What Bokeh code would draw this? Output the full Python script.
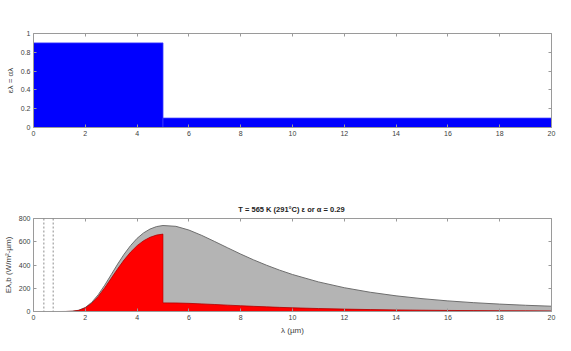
from bokeh.plotting import figure
from bokeh.layouts import column
from bokeh.models import LinearAxis, Span, FixedTicker, Range1d, CustomLabelingPolicy
from bokeh.embed import file_html
from bokeh.resources import INLINE

# ---- data ----
eps_edges = [0, 5, 20]
eps_values = [0.9, 0.1]

lam = [0, 0.5, 1.0, 1.25, 1.5, 1.75, 2.0, 2.25, 2.5, 2.75, 3.0, 3.25, 3.5, 3.75,
       4.0, 4.25, 4.5, 4.75, 5.0, 5.5, 6.0, 6.5, 7.0, 7.5, 8.0, 8.5, 9.0, 9.5,
       10, 11, 12, 13, 14, 15, 16, 17, 18, 19, 20]
E_b = [0, 0, 0, 0.2, 2.1, 10.9, 34.5, 78.9, 144.4, 226.4, 317.0, 408.4, 493.4, 567.7,
       629.3, 676.0, 709.3, 730.3, 739.7, 732.6, 700.6, 654.2, 601.4, 547.2, 493.9, 443.8, 397.8, 355.8,
       318.1, 254.6, 204.7, 165.5, 134.7, 110.5, 91.2, 75.9, 63.6, 53.6, 45.4]

lam_short = [0, 0.5, 1.0, 1.25, 1.5, 1.75, 2.0, 2.25, 2.5, 2.75, 3.0, 3.25, 3.5, 3.75,
             4.0, 4.25, 4.5, 4.75, 5.0]
E_short = [0, 0, 0, 0.2, 1.9, 9.8, 31.1, 71.0, 130.0, 203.8, 285.3, 367.6, 444.1, 510.9,
           566.4, 608.4, 638.4, 657.3, 665.7]
lam_long = [5.0, 5.5, 6.0, 6.5, 7.0, 7.5, 8.0, 8.5, 9.0, 9.5, 10, 11, 12, 13, 14, 15, 16, 17, 18, 19, 20]
E_long = [74.0, 73.3, 70.1, 65.4, 60.1, 54.7, 49.4, 44.4, 39.8, 35.6, 31.8, 25.5, 20.5, 16.6,
          13.5, 11.1, 9.1, 7.6, 6.4, 5.4, 4.5]

visible_band = [0.4, 0.76]

x_ticks = [0, 2, 4, 6, 8, 10, 12, 14, 16, 18, 20]
eps_ticks = [0, 0.2, 0.4, 0.6, 0.8, 1]
eps_tick_labels = ["0", "0.2", "0.4", "0.6", "0.8", "1"]
E_ticks = [0, 200, 400, 600, 800]

title_text = "T = 565 K (291\u00b0C)  \u03b5 or \u03b1 = 0.29"

FONT = "Liberation Sans"
AX = "#9a9a9a"
TXT = "#404040"


def style_axis(ax, show_labels=True):
    ax.axis_line_color = AX
    ax.major_tick_line_color = AX
    ax.major_tick_in = 3
    ax.major_tick_out = 0
    ax.minor_tick_in = 0
    ax.minor_tick_out = 0
    ax.major_label_text_font = FONT
    ax.major_label_text_color = TXT
    ax.major_label_standoff = 3
    ax.major_label_text_font_size = "7px"
    ax.axis_label_text_font = FONT
    ax.axis_label_text_font_style = "normal"
    ax.axis_label_text_color = TXT
    ax.axis_label_text_font_size = "8px"
    ax.axis_label_standoff = 3
    if not show_labels:
        ax.major_label_policy = CustomLabelingPolicy(code="return new Set()")
        ax.major_label_standoff = 0
        ax.major_label_text_font_size = "1px"
        ax.axis_label_standoff = 0


# ---- top panel ----
p1 = figure(width=571, height=150, x_range=Range1d(0, 20), y_range=Range1d(0, 1),
            output_backend="svg", toolbar_location=None,
            min_border_left=33, min_border_right=20, min_border_top=33, min_border_bottom=23)
p1.quad(left=eps_edges[:-1], right=eps_edges[1:], top=eps_values, bottom=0,
        fill_color="#0000ff", line_color="#3a3aff", line_width=0.8)
p1.xgrid.visible = False
p1.ygrid.visible = False
p1.outline_line_color = None
p1.xaxis.ticker = FixedTicker(ticks=x_ticks)
p1.yaxis.ticker = FixedTicker(ticks=eps_ticks)
p1.yaxis.major_label_overrides = {t: l for t, l in zip(eps_ticks, eps_tick_labels)}
p1.yaxis.axis_label = "\u03b5\u03bb = \u03b1\u03bb"
style_axis(p1.xaxis[0])
style_axis(p1.yaxis[0])
a_top = LinearAxis(ticker=FixedTicker(ticks=x_ticks))
a_right = LinearAxis(ticker=FixedTicker(ticks=eps_ticks))
style_axis(a_top, False)
style_axis(a_right, False)
p1.add_layout(a_top, "above")
p1.add_layout(a_right, "right")

# ---- bottom panel ----
p2 = figure(width=571, height=201, x_range=Range1d(0, 20), y_range=Range1d(0, 800),
            output_backend="svg", toolbar_location=None,
            min_border_left=33, min_border_right=20, min_border_top=68, min_border_bottom=40)
p2.varea(x=lam, y1=0, y2=E_b, fill_color="#b4b4b4")
p2.line(lam, E_b, line_color="#6e6e6e", line_width=1)
p2.varea(x=lam_short, y1=0, y2=E_short, fill_color="#ff0000")
p2.varea(x=lam_long, y1=0, y2=E_long, fill_color="#ff0000")
p2.line(lam_short, E_short, line_color="#b00000", line_width=0.8)
p2.line(lam_long, E_long, line_color="#b00000", line_width=0.8)
p2.line([lam_short[-1], lam_long[0]], [E_short[-1], E_long[0]], line_color="#b00000", line_width=0.6)
for xv in visible_band:
    p2.add_layout(Span(location=xv, dimension="height", line_color="#707070",
                       line_dash="2 2", line_width=0.8))
p2.xgrid.visible = False
p2.ygrid.visible = False
p2.outline_line_color = None
p2.xaxis.ticker = FixedTicker(ticks=x_ticks)
p2.yaxis.ticker = FixedTicker(ticks=E_ticks)
p2.xaxis.axis_label = "\u03bb (\u00b5m)"
p2.yaxis.axis_label = "E\u03bb,b (W/m\u00b2-\u00b5m)"
style_axis(p2.xaxis[0])
style_axis(p2.yaxis[0])
b_top = LinearAxis(ticker=FixedTicker(ticks=x_ticks))
b_right = LinearAxis(ticker=FixedTicker(ticks=E_ticks))
style_axis(b_top, False)
style_axis(b_right, False)
p2.add_layout(b_top, "above")
p2.add_layout(b_right, "right")
p2.title.text = title_text
p2.title.align = "center"
p2.title.text_font = FONT
p2.title.text_font_size = "7.5px"
p2.title.text_font_style = "bold"
p2.title.text_color = "#222222"
p2.title.standoff = 1

layout = column(p1, p2, spacing=0)
open("out.html", "w").write(file_html(layout, INLINE))
